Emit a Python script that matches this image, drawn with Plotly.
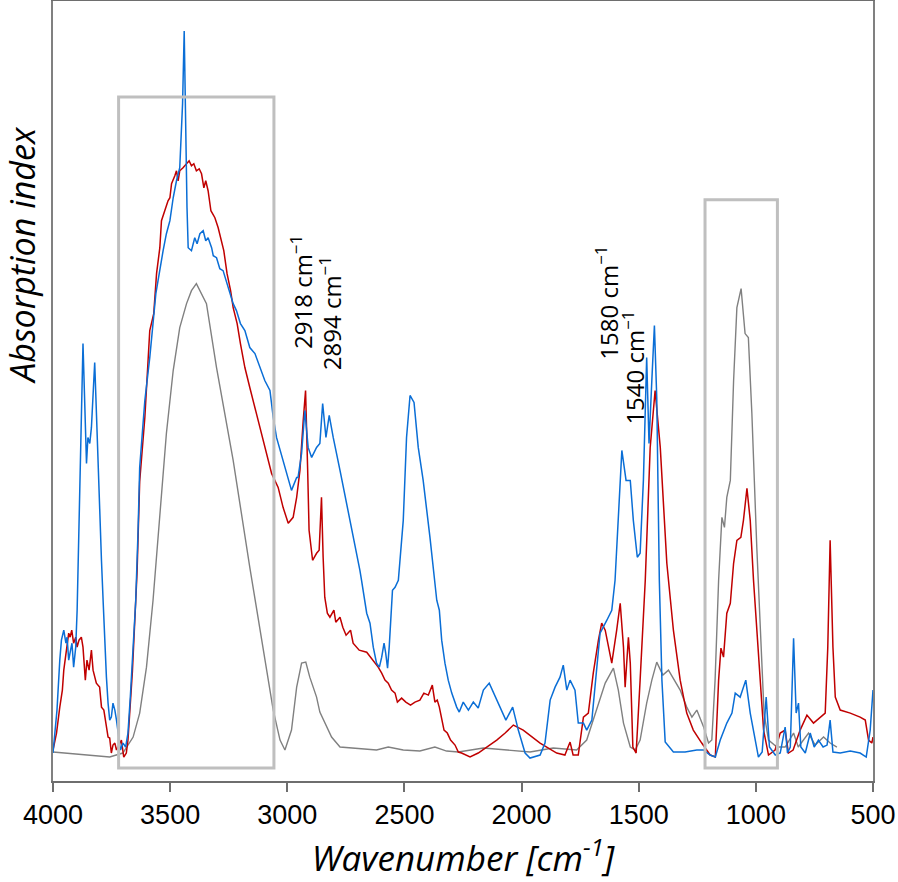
import plotly.graph_objects as go

# ---- data: (wavenumber [cm-1], absorption index [a.u.]) ----
blue_points = [
    (4000, 0.028), (3983, 0.071), (3971, 0.121), (3964, 0.141), (3954, 0.151), (3945, 0.138), (3940, 0.144),
    (3933, 0.121), (3925, 0.131), (3919, 0.138), (3912, 0.114), (3903, 0.134), (3897, 0.171), (3886, 0.281),
    (3872, 0.438), (3857, 0.318), (3851, 0.344), (3843, 0.338), (3836, 0.354), (3822, 0.419), (3808, 0.314),
    (3801, 0.268), (3793, 0.220), (3786, 0.180), (3779, 0.138), (3772, 0.104), (3765, 0.078), (3758, 0.061),
    (3751, 0.064), (3744, 0.078), (3736, 0.071), (3729, 0.061), (3712, 0.031), (3701, 0.038), (3690, 0.034),
    (3680, 0.048), (3670, 0.084), (3658, 0.130), (3647, 0.180), (3637, 0.250), (3630, 0.314), (3608, 0.381),
    (3587, 0.424), (3561, 0.488), (3544, 0.514), (3530, 0.531), (3516, 0.548), (3501, 0.561), (3487, 0.584),
    (3473, 0.601), (3459, 0.614), (3447, 0.678), (3440, 0.751), (3433, 0.628), (3428, 0.574), (3423, 0.534),
    (3409, 0.531), (3395, 0.544), (3385, 0.538), (3373, 0.548), (3359, 0.551), (3348, 0.541), (3338, 0.544),
    (3323, 0.534), (3316, 0.526), (3302, 0.524), (3288, 0.513), (3274, 0.511), (3257, 0.498), (3245, 0.488),
    (3231, 0.478), (3217, 0.471), (3200, 0.458), (3181, 0.451), (3160, 0.434), (3138, 0.428), (3117, 0.414),
    (3096, 0.401), (3074, 0.391), (3060, 0.364), (3046, 0.344), (3031, 0.331), (3010, 0.314), (2982, 0.291),
    (2960, 0.304), (2954, 0.304), (2939, 0.328), (2925, 0.371), (2911, 0.334), (2896, 0.324), (2875, 0.334),
    (2861, 0.338), (2849, 0.378), (2835, 0.344), (2821, 0.366), (2804, 0.344), (2775, 0.311), (2747, 0.278),
    (2719, 0.248), (2690, 0.211), (2683, 0.201), (2661, 0.168), (2647, 0.158), (2633, 0.134), (2619, 0.118),
    (2607, 0.114), (2597, 0.124), (2587, 0.138), (2580, 0.128), (2572, 0.113), (2565, 0.134), (2558, 0.168),
    (2551, 0.191), (2540, 0.194), (2526, 0.201), (2505, 0.261), (2491, 0.344), (2476, 0.386), (2459, 0.379),
    (2441, 0.334), (2420, 0.301), (2391, 0.244), (2370, 0.201), (2362, 0.181), (2351, 0.171), (2341, 0.141),
    (2327, 0.118), (2313, 0.101), (2298, 0.088), (2277, 0.074), (2266, 0.069), (2249, 0.079), (2227, 0.071),
    (2206, 0.079), (2185, 0.073), (2163, 0.091), (2138, 0.098), (2106, 0.081), (2067, 0.061), (2038, 0.074),
    (2014, 0.051), (1985, 0.028), (1964, 0.023), (1921, 0.026), (1900, 0.038), (1878, 0.081), (1857, 0.094),
    (1836, 0.104), (1822, 0.116), (1807, 0.091), (1793, 0.101), (1772, 0.091), (1758, 0.058), (1736, 0.058),
    (1722, 0.051), (1700, 0.061), (1665, 0.148), (1636, 0.161), (1615, 0.171), (1601, 0.201), (1587, 0.268),
    (1572, 0.331), (1554, 0.301), (1536, 0.301), (1523, 0.261), (1506, 0.224), (1494, 0.228), (1480, 0.301),
    (1466, 0.424), (1456, 0.338), (1444, 0.401), (1433, 0.456), (1423, 0.384), (1412, 0.201), (1401, 0.101),
    (1387, 0.039), (1352, 0.029), (1302, 0.029), (1252, 0.031), (1223, 0.031), (1195, 0.026), (1173, 0.024),
    (1152, 0.041), (1124, 0.058), (1102, 0.068), (1088, 0.088), (1067, 0.084), (1043, 0.101), (1024, 0.068),
    (1003, 0.041), (989, 0.024), (973, 0.029), (956, 0.084), (942, 0.034), (917, 0.026), (896, 0.028),
    (875, 0.054), (865, 0.028), (853, 0.034), (839, 0.143), (828, 0.068), (818, 0.078), (808, 0.034),
    (789, 0.028), (768, 0.048), (751, 0.034), (733, 0.041), (713, 0.034), (696, 0.036), (683, 0.061),
    (671, 0.029), (640, 0.028), (597, 0.030), (555, 0.028), (529, 0.024), (512, 0.051), (500, 0.091),
]

red_points = [
    (4000, 0.031), (3997, 0.034), (3985, 0.048), (3971, 0.074), (3960, 0.091), (3954, 0.111), (3940, 0.134),
    (3933, 0.148), (3927, 0.144), (3920, 0.151), (3912, 0.138), (3903, 0.144), (3897, 0.134), (3889, 0.141),
    (3879, 0.144), (3872, 0.134), (3862, 0.101), (3855, 0.121), (3846, 0.111), (3836, 0.131), (3829, 0.111),
    (3822, 0.104), (3815, 0.098), (3801, 0.094), (3793, 0.074), (3783, 0.071), (3775, 0.058), (3765, 0.044),
    (3758, 0.043), (3751, 0.028), (3744, 0.036), (3736, 0.038), (3729, 0.031), (3708, 0.041), (3698, 0.024),
    (3687, 0.028), (3680, 0.041), (3672, 0.071), (3661, 0.110), (3651, 0.160), (3641, 0.210), (3630, 0.300),
    (3608, 0.364), (3587, 0.451), (3570, 0.468), (3558, 0.508), (3544, 0.534), (3537, 0.561), (3523, 0.571),
    (3509, 0.581), (3501, 0.584), (3494, 0.598), (3480, 0.606), (3473, 0.611), (3466, 0.601), (3459, 0.611),
    (3445, 0.614), (3430, 0.618), (3419, 0.621), (3409, 0.616), (3399, 0.618), (3388, 0.611), (3376, 0.613),
    (3366, 0.608), (3356, 0.594), (3348, 0.601), (3338, 0.591), (3326, 0.571), (3309, 0.564), (3295, 0.554),
    (3281, 0.541), (3271, 0.531), (3257, 0.508), (3242, 0.491), (3231, 0.474), (3214, 0.458), (3200, 0.438),
    (3181, 0.414), (3160, 0.394), (3117, 0.354), (3089, 0.328), (3067, 0.308), (3039, 0.294), (3018, 0.274),
    (2996, 0.258), (2975, 0.264), (2960, 0.284), (2946, 0.311), (2932, 0.361), (2922, 0.391), (2913, 0.311),
    (2907, 0.251), (2892, 0.221), (2875, 0.228), (2864, 0.231), (2854, 0.284), (2847, 0.224), (2840, 0.184),
    (2829, 0.168), (2818, 0.164), (2801, 0.171), (2793, 0.159), (2775, 0.164), (2763, 0.154), (2749, 0.146),
    (2730, 0.151), (2719, 0.138), (2693, 0.131), (2661, 0.129), (2633, 0.121), (2612, 0.114), (2597, 0.108),
    (2583, 0.101), (2569, 0.098), (2555, 0.091), (2540, 0.088), (2530, 0.079), (2512, 0.083), (2494, 0.079),
    (2474, 0.076), (2455, 0.079), (2434, 0.081), (2417, 0.088), (2398, 0.086), (2381, 0.096), (2370, 0.079),
    (2360, 0.081), (2351, 0.074), (2341, 0.061), (2331, 0.051), (2317, 0.048), (2303, 0.041), (2284, 0.036),
    (2270, 0.029), (2256, 0.028), (2220, 0.024), (2185, 0.028), (2149, 0.034), (2106, 0.041), (2070, 0.048),
    (2035, 0.056), (1993, 0.051), (1964, 0.046), (1921, 0.038), (1850, 0.028), (1815, 0.026), (1793, 0.039),
    (1780, 0.026), (1758, 0.026), (1736, 0.064), (1715, 0.068), (1694, 0.108), (1672, 0.141), (1658, 0.158),
    (1643, 0.151), (1629, 0.134), (1615, 0.118), (1594, 0.151), (1579, 0.178), (1565, 0.134), (1558, 0.094),
    (1544, 0.144), (1536, 0.118), (1525, 0.034), (1511, 0.028), (1494, 0.101), (1472, 0.201), (1451, 0.334),
    (1430, 0.391), (1408, 0.334), (1380, 0.218), (1352, 0.151), (1323, 0.101), (1295, 0.068), (1267, 0.051),
    (1231, 0.038), (1195, 0.026), (1173, 0.024), (1159, 0.101), (1149, 0.133), (1138, 0.124), (1124, 0.168),
    (1109, 0.178), (1095, 0.218), (1081, 0.241), (1064, 0.244), (1053, 0.261), (1038, 0.293), (1024, 0.261),
    (1010, 0.201), (996, 0.151), (982, 0.101), (967, 0.051), (946, 0.026), (918, 0.031), (896, 0.048),
    (875, 0.051), (861, 0.028), (841, 0.031), (811, 0.051), (782, 0.066), (754, 0.058), (726, 0.064),
    (704, 0.068), (693, 0.134), (683, 0.241), (671, 0.134), (661, 0.084), (640, 0.071), (597, 0.068),
    (555, 0.064), (533, 0.061), (519, 0.041), (505, 0.038), (500, 0.044),
]

grey_points = [
    (4000, 0.029), (3872, 0.026), (3758, 0.024), (3702, 0.028), (3658, 0.044), (3630, 0.068), (3601, 0.114),
    (3573, 0.181), (3544, 0.264), (3516, 0.348), (3487, 0.411), (3459, 0.454), (3430, 0.478), (3409, 0.491),
    (3388, 0.498), (3373, 0.491), (3345, 0.478), (3302, 0.414), (3231, 0.321), (3160, 0.214), (3103, 0.131),
    (3060, 0.071), (3031, 0.041), (3010, 0.031), (2982, 0.051), (2960, 0.094), (2939, 0.118), (2921, 0.119),
    (2904, 0.104), (2875, 0.084), (2861, 0.069), (2832, 0.054), (2811, 0.044), (2775, 0.034), (2719, 0.033),
    (2619, 0.031), (2569, 0.034), (2505, 0.031), (2434, 0.030), (2370, 0.034), (2320, 0.030), (2270, 0.029),
    (2163, 0.033), (1964, 0.029), (1865, 0.033), (1765, 0.031), (1722, 0.041), (1679, 0.071), (1643, 0.098),
    (1608, 0.113), (1587, 0.091), (1565, 0.058), (1536, 0.034), (1515, 0.031), (1494, 0.041), (1466, 0.078),
    (1444, 0.101), (1423, 0.119), (1397, 0.106), (1373, 0.111), (1323, 0.091), (1295, 0.074), (1273, 0.064),
    (1252, 0.071), (1223, 0.054), (1202, 0.038), (1188, 0.041), (1174, 0.101), (1159, 0.201), (1145, 0.264),
    (1134, 0.254), (1124, 0.284), (1109, 0.301), (1095, 0.401), (1081, 0.474), (1063, 0.493), (1046, 0.448),
    (1032, 0.444), (1017, 0.368), (996, 0.234), (979, 0.134), (965, 0.068), (946, 0.041), (910, 0.034),
    (875, 0.034), (839, 0.048), (819, 0.034), (775, 0.048), (747, 0.036), (711, 0.044), (683, 0.038),
    (654, 0.034),
]

# highlighted regions: (wavenumber from, wavenumber to, index from, index to)
boxes = [(3720, 3057, 0.013, 0.685), (1217, 908, 0.013, 0.582)]

# band labels and their positions (wavenumber, absorption index)
band_labels = ["2918 cm<sup>−1</sup>", "2894 cm<sup>−1</sup>", "1580 cm<sup>−1</sup>", "1540 cm<sup>−1</sup>"]
band_label_wn = [2940, 2815, 1635, 1524]
band_label_ai = [0.490, 0.468, 0.479, 0.414]

x_ticks = [4000, 3500, 3000, 2500, 2000, 1500, 1000, 500]

series = [
    (grey_points, "#808080", 1.4),
    (red_points, "#c00000", 1.5),
    (blue_points, "#0a6ed6", 1.5),
]

fig = go.Figure()
for pts, color, width in series:
    fig.add_trace(go.Scatter(x=[p[0] for p in pts], y=[p[1] for p in pts], mode="lines",
                             line=dict(color=color, width=width), showlegend=False,
                             hoverinfo="skip"))

for (x0, x1, y0, y1) in boxes:
    fig.add_shape(type="rect", xref="x", yref="y", x0=x0, x1=x1, y0=y0, y1=y1,
                  line=dict(color="#bfbfbf", width=3), fillcolor="rgba(0,0,0,0)")

for t, xw, ya in zip(band_labels, band_label_wn, band_label_ai):
    fig.add_annotation(x=xw, y=ya, xref="x", yref="y", text=t, textangle=-90,
                       showarrow=False, xanchor="center", yanchor="middle",
                       font=dict(family="Open Sans", size=24, color="#000000"))

# y-axis title (placed above centre, as in the original)
fig.add_annotation(x=-0.0375, y=0.675, xref="paper", yref="paper", text="Absorption index",
                   textangle=-90, showarrow=False, xanchor="center", yanchor="middle",
                   font=dict(family="Open Sans", size=34, color="#000000", style="italic"))

fig.update_layout(
    width=898, height=882,
    margin=dict(l=53, r=25, t=1, b=101),
    plot_bgcolor="white", paper_bgcolor="white",
    xaxis=dict(range=[4000, 500], tickvals=x_ticks, ticktext=[str(v) for v in x_ticks],
               automargin=False,
               ticks="outside", ticklen=9, tickwidth=2, tickcolor="#6e6e6e",
               showline=True, linecolor="#6e6e6e", linewidth=2, mirror=True,
               showgrid=False, zeroline=False,
               tickfont=dict(family="Liberation Sans", size=27, color="#000000"),
               title=dict(text="Wavenumber [cm<sup>-1</sup>]", standoff=16,
                          font=dict(family="Open Sans", size=35, color="#000000", style="italic"))),
    yaxis=dict(range=[0, 0.781], showticklabels=False, ticks="", automargin=False,
               showline=True, linecolor="#808080", linewidth=2, mirror=True,
               showgrid=False, zeroline=False),
)

fig.write_html("out.html", config={"displayModeBar": False},
               post_script="document.body.style.margin='0';document.body.style.overflow='hidden';")
